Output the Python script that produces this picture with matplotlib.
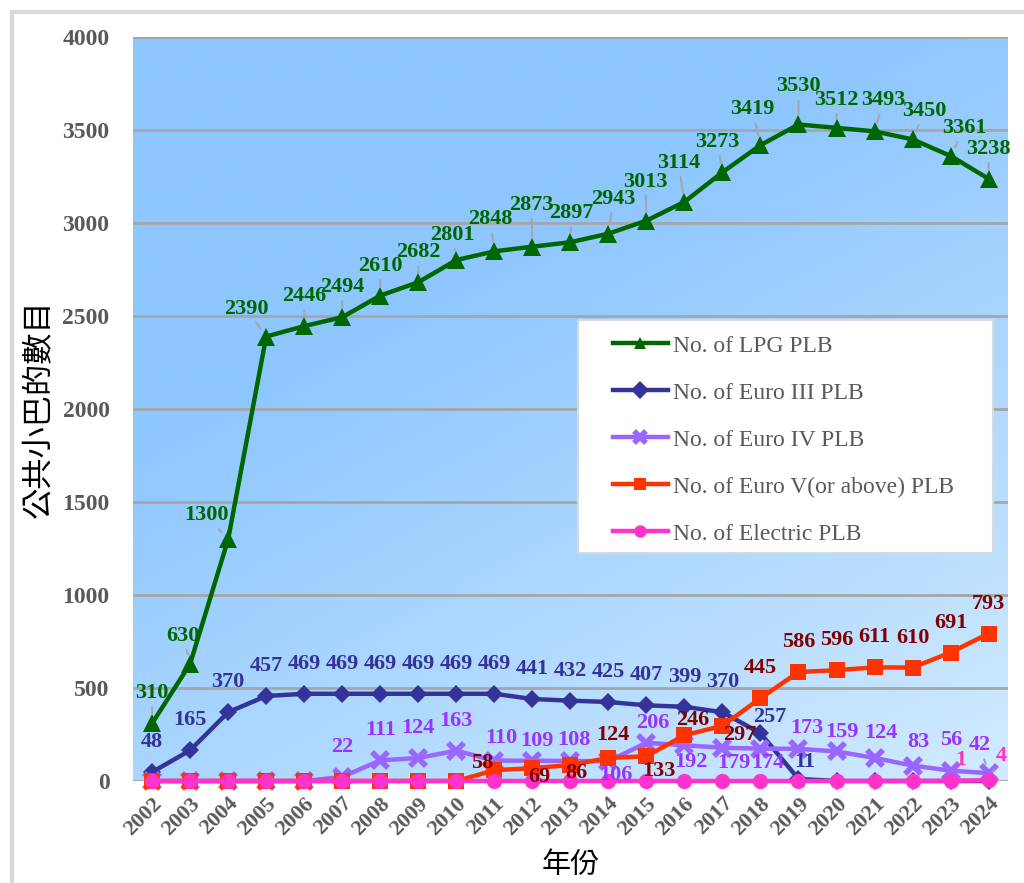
import numpy as np
import matplotlib.pyplot as plt
from matplotlib.patches import Rectangle

plt.rcParams['font.family'] = ['Liberation Serif', 'DejaVu Serif']

# data
years = [str(y) for y in range(2002, 2025)]
lpg = [310, 630, 1300, 2390, 2446, 2494, 2610, 2682, 2801, 2848, 2873, 2897,
       2943, 3013, 3114, 3273, 3419, 3530, 3512, 3493, 3450, 3361, 3238]
euro3 = [48, 165, 370, 457, 469, 469, 469, 469, 469, 469, 441, 432, 425, 407,
         399, 370, 257, 11, 0, 0, 0, 0, 0]
euro4 = [0, 0, 0, 0, 0, 22, 111, 124, 163, 110, 109, 108, 106, 206, 192, 179,
         174, 173, 159, 124, 83, 56, 42]
euro5 = [0, 0, 0, 0, 0, 0, 0, 0, 0, 58, 69, 86, 124, 133, 246, 297, 445, 586,
         596, 611, 610, 691, 793]
electric = [0] * 21 + [1, 4]

# which points carry a label
euro3_lab = list(range(0, 18))
euro4_lab = list(range(5, 23))
euro5_lab = list(range(9, 23))
elec_lab = [21, 22]

fig = plt.figure(figsize=(10.24, 8.83), dpi=100)
ax = fig.add_axes([0.130, 0.1155, 0.854, 0.8425])

# gradient background (dark top-left -> light bottom-right)
gx, gy = np.meshgrid(np.linspace(0, 1, 300), np.linspace(0, 1, 300))
t = np.clip(0.8 * gy + 0.5 * gx - 0.45, 0, 1)
c0 = np.array([142, 199, 255]) / 255
c1 = np.array([222, 241, 255]) / 255
img = c0[None, None, :] * (1 - t[..., None]) + c1[None, None, :] * t[..., None]
ax.imshow(img, extent=[0, 1, 0, 1], transform=ax.transAxes, aspect='auto',
          origin='upper', zorder=0)

x = np.arange(len(years))
ax.set_xlim(-0.5, len(years) - 0.5)
ax.set_ylim(0, 4000)
ax.set_yticks(np.arange(0, 4001, 500))
ax.yaxis.grid(True, color='#A6A6A6', linewidth=2, zorder=1)
ax.set_axisbelow(False)
for s in ax.spines.values():
    s.set_visible(False)

series = [
    ('No. of LPG PLB', lpg, '#006600', '^', 13, '#006600', list(range(23))),
    ('No. of Euro III PLB', euro3, '#333399', 'D', 9, '#333399', euro3_lab),
    ('No. of Euro IV PLB', euro4, '#9966FF', 'x', 12, '#9933FF', euro4_lab),
    ('No. of Euro V(or above) PLB', euro5, '#FF3300', 's', 11, '#800000', euro5_lab),
    ('No. of Electric PLB', electric, '#FF33CC', 'o', 11, '#FF33CC', elec_lab),
]

for i, (name, vals, col, mk, ms, lcol, labidx) in enumerate(series):
    kw = dict(markeredgewidth=4) if mk == 'x' else dict(markeredgewidth=0)
    ax.plot(x, vals, color=col, linewidth=3.2, marker=mk, markersize=ms,
            markerfacecolor=col, markeredgecolor=col, label=name,
            zorder=3 + i, clip_on=False, **kw)

# label offsets in pixels (dx, dy)
offsets = {
    0: {1: (-7, 28), 2: (-22, 24), 3: (-20, 28), 8: (-4, 25), 9: (-4, 32),
        10: (-1, 42), 11: (1, 29), 12: (5, 35), 13: (-1, 39), 14: (-6, 39),
        15: (-5, 30), 16: (-8, 36), 17: (0, 38), 18: (0, 28),
        19: (9, 31), 20: (12, 28), 21: (14, 28)},
    1: {16: (9, 16), 17: (6, 17)},
    2: {9: (7, 23), 10: (5, 20), 11: (4, 21), 12: (8, -14), 13: (6, 20),
        14: (7, -17), 15: (11, -15), 16: (7, -14), 17: (8, 21), 18: (5, 19),
        19: (6, 25), 20: (6, 24), 21: (1, 31), 22: (-9, 28)},
    3: {9: (-12, 7), 10: (7, -9), 11: (6, -8), 12: (4, 23), 13: (13, -15),
        14: (8, 15), 15: (17, -9)},
    4: {21: (10, 21), 22: (13, 24)},
}

for i, (name, vals, col, mk, ms, lcol, labidx) in enumerate(series):
    for j in labidx:
        dx, dy = offsets.get(i, {}).get(j, (0, 30))
        ap = None
        if i == 0 or (i == 2 and j == 22) or (i == 4 and j == 22):
            ap = dict(arrowstyle='-', color='#A6A6A6', lw=1.5,
                      shrinkA=1, shrinkB=7)
        ax.annotate(str(vals[j]), (x[j], vals[j]), xytext=(dx, dy),
                    textcoords='offset pixels', ha='center', va='center',
                    fontsize=16, fontweight='bold', color=lcol,
                    arrowprops=ap, zorder=10, annotation_clip=False)

ax.set_xticks(x)
ax.set_xticklabels(years, rotation=45, ha='right', rotation_mode='anchor',
                   fontsize=16, fontweight='bold', color='#595959')
ax.tick_params(axis='both', length=0)
ax.tick_params(axis='x', pad=9)
ax.tick_params(axis='y', pad=17)
for lab in ax.get_yticklabels():
    lab.set_fontsize(17)
    lab.set_fontweight('bold')
    lab.set_color('#595959')

ax.set_ylabel('公共小巴的數目', family=['Noto Sans CJK TC'], fontsize=22.5,
              color='black', labelpad=5)
ax.set_xlabel('年份', family=['Noto Sans CJK TC'], fontsize=21,
              color='black', labelpad=8)

# legend box drawn as its own white panel
ax.add_patch(Rectangle((0.5086, 0.3065), 0.4743, 0.3132, transform=ax.transAxes,
                       facecolor='white', edgecolor='#D9D9D9', linewidth=1.5,
                       zorder=19))
leg = ax.legend(loc='upper left', bbox_to_anchor=(0.5486, 0.5995),
                fontsize=17, frameon=False, handlelength=2.33,
                handletextpad=0.2, labelspacing=1.08, borderpad=0,
                borderaxespad=0)
leg.set_zorder(20)
for txt in leg.get_texts():
    txt.set_color('#595959')
for h in leg.legend_handles:
    h.set_markersize(9)

fig.patches.append(Rectangle((12 / 1024, -0.01), 1.0, 1 - 12 / 883 + 0.01,
                             transform=fig.transFigure, fill=False,
                             edgecolor='#D9D9D9', linewidth=3))

fig.savefig('out.png', dpi=100)
